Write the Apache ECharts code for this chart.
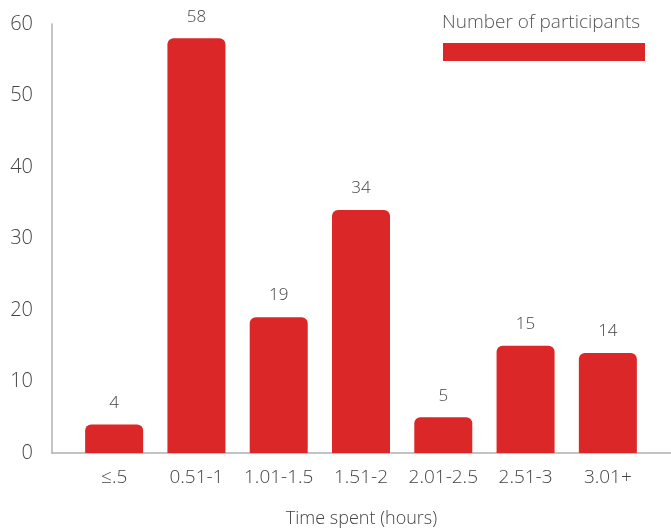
<!DOCTYPE html>
<html>
<head>
<meta charset="utf-8">
<script src="https://cdn.jsdelivr.net/npm/echarts@6/dist/echarts.min.js"></script>
<style>
  html, body { margin: 0; padding: 0; background: #fff; }
  #chart { width: 671px; height: 530px; }
</style>
</head>
<body>
<div id="chart"></div>
<script>
  // data
  var categories = ['≤.5', '0.51-1', '1.01-1.5', '1.51-2', '2.01-2.5', '2.51-3', '3.01+']
  var participants = [4, 58, 19, 34, 5, 15, 14]
  var seriesName = 'Number of participants'

  var red = '#DB2727'
  var textColor = '#444'
  var font = 'Open Sans'
  var weight = 300

  var myChart = echarts.init(document.getElementById('chart'))

  var option = {
    backgroundColor: '#ffffff',
    animation: false,
    textStyle: { fontFamily: font },
    title: {
      text: seriesName,
      left: 442,
      top: 13,
      padding: 0,
      textStyle: { fontFamily: font, fontSize: 19, fontWeight: weight, color: '#555' }
    },
    legend: {
      data: [seriesName],
      left: 443,
      top: 43,
      padding: 0,
      itemWidth: 202,
      itemHeight: 18,
      icon: 'rect',
      formatter: function () { return '' },
      selectedMode: false
    },
    grid: [
      // frame: axis lines + y labels
      { left: 52, right: 0, top: 24, bottom: 77, outerBoundsMode: 'none' },
      // bars
      { left: 73, right: 22, top: 24, bottom: 77, outerBoundsMode: 'none' }
    ],
    xAxis: [
      {
        type: 'value',
        gridIndex: 0,
        min: 0,
        max: 1,
        axisLine: { show: true, onZero: false, lineStyle: { color: '#b0b0b0', width: 1.5 } },
        axisTick: { show: false },
        axisLabel: { show: false },
        splitLine: { show: false },
        name: 'Time spent (hours)',
        nameLocation: 'middle',
        nameGap: 57,
        nameTextStyle: { fontFamily: font, fontSize: 18, fontWeight: weight, color: textColor }
      },
      {
        type: 'category',
        gridIndex: 1,
        data: categories,
        axisLine: { show: false },
        axisTick: { show: false },
        axisLabel: { interval: 0, margin: 15, fontSize: 19, fontWeight: weight, color: textColor, fontFamily: font }
      }
    ],
    yAxis: [
      {
        type: 'value',
        gridIndex: 0,
        min: 0,
        max: 60,
        interval: 10,
        axisLine: { show: true, lineStyle: { color: '#b0b0b0', width: 1.5 } },
        axisTick: { show: false },
        splitLine: { show: false },
        axisLabel: { margin: 19, padding: [4, 0, 0, 0], fontSize: 20, fontWeight: weight, color: textColor, fontFamily: font }
      },
      {
        type: 'value',
        gridIndex: 1,
        min: 0,
        max: 60,
        interval: 10,
        show: false
      }
    ],
    series: [
      {
        name: seriesName,
        type: 'bar',
        xAxisIndex: 1,
        yAxisIndex: 1,
        barWidth: 58,
        data: participants,
        itemStyle: { color: red, borderRadius: [6, 6, 0, 0] },
        label: {
          show: true,
          position: 'top',
          distance: 13,
          fontSize: 17,
          fontWeight: weight,
          color: textColor,
          fontFamily: font
        }
      }
    ]
  }

  myChart.setOption(option)
</script>
</body>
</html>
